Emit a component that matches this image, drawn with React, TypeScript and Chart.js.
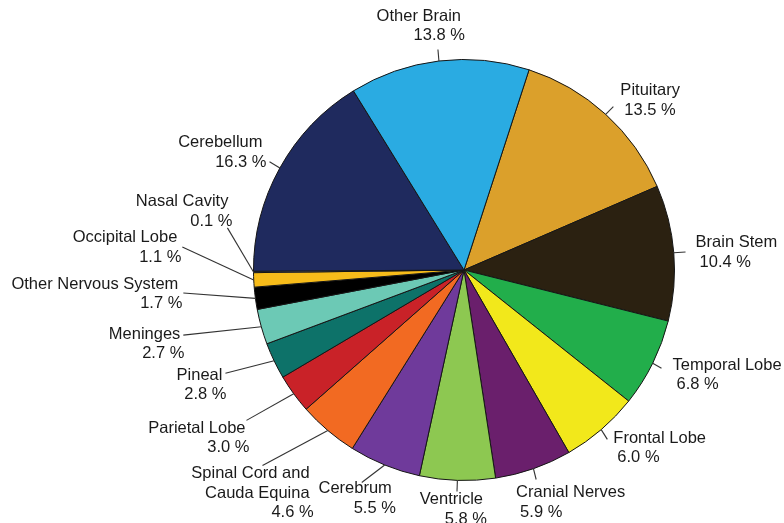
import React, { useEffect, useRef } from "react";
import { Chart, registerables } from "chart.js";

Chart.register(...registerables);

const categories = [
  "Pituitary",
  "Brain Stem",
  "Temporal Lobe",
  "Frontal Lobe",
  "Cranial Nerves",
  "Ventricle",
  "Cerebrum",
  "Spinal Cord and\nCauda Equina",
  "Parietal Lobe",
  "Pineal",
  "Meninges",
  "Other Nervous System",
  "Occipital Lobe",
  "Nasal Cavity",
  "Cerebellum",
  "Other Brain",
];

const percentages = [13.5, 10.4, 6.8, 6.0, 5.9, 5.8, 5.5, 4.6, 3.0, 2.8, 2.7, 1.7, 1.1, 0.1, 16.3, 13.8];

const sliceColors = [
  "#DBA02B",
  "#2B2111",
  "#22AE4B",
  "#F2E81B",
  "#6A1F6C",
  "#8DC851",
  "#6F3A9B",
  "#F26A22",
  "#C92228",
  "#0D7269",
  "#6CC9B5",
  "#000000",
  "#F7BC1A",
  "#E6E6E6",
  "#1F2A5E",
  "#2AABE2",
];

// Label text placement relative to pie centre (in px at radius 210):
// [textDx, textDy, align, leaderEndDx, leaderEndDy]
const labelLayout: [number, number, "left" | "right", number, number][] = [
  [156, -179, "left", 149, -163],
  [231, -27, "left", 221, -18],
  [208, 95, "left", 197, 98],
  [149, 168, "left", 143, 169],
  [52, 222, "left", 72, 209],
  [19, 229, "right", -7, 221],
  [-72, 218, "right", -102, 212],
  [-154, 203, "right", -201, 195],
  [-218, 158, "right", -217, 150],
  [-241, 105, "right", -238, 103],
  [-283, 64, "right", -280, 65],
  [-285, 14, "right", -280, 23],
  [-286, -32, "right", -281, -23],
  [-235, -68, "right", -236, -42],
  [-201, -127, "right", -194, -108],
  [-3, -253, "right", -26, -220],
];

const labelPlugin = {
  id: "pieLabels",
  afterDatasetsDraw(chart: any) {
    const meta = chart.getDatasetMeta(0);
    const ctx = chart.ctx;
    ctx.save();
    ctx.font = '16.5px "Liberation Sans", Arial, sans-serif';
    ctx.fillStyle = "#1a1a1a";
    ctx.strokeStyle = "#333333";
    ctx.lineWidth = 1.1;
    ctx.textBaseline = "middle";
    meta.data.forEach((arc: any, i: number) => {
      const { x, y, startAngle, endAngle, outerRadius } = arc.getProps(
        ["x", "y", "startAngle", "endAngle", "outerRadius"],
        true
      );
      const s = outerRadius / 210;
      const mid = (startAngle + endAngle) / 2;
      const sx = x + Math.cos(mid) * outerRadius;
      const sy = y + Math.sin(mid) * outerRadius;
      const [tdx, tdy, align, edx, edy] = labelLayout[i];
      ctx.beginPath();
      ctx.moveTo(sx, sy);
      ctx.lineTo(x + edx * s, y + edy * s);
      ctx.stroke();
      const lines = categories[i].split("\n");
      lines.push(percentages[i].toFixed(1) + " %");
      ctx.textAlign = align;
      const tx = x + tdx * s;
      const ty = y + tdy * s;
      lines.forEach((ln, k) => {
        const isPct = k === lines.length - 1;
        ctx.fillText(ln, tx + (isPct ? 4 : 0), ty + k * 19.5);
      });
    });
    ctx.restore();
  },
};

export default function App() {
  const canvasRef = useRef<HTMLCanvasElement | null>(null);
  useEffect(() => {
    if (!canvasRef.current) return;
    const chart = new Chart(canvasRef.current, {
      type: "pie",
      data: {
        labels: categories,
        datasets: [
          {
            data: percentages,
            backgroundColor: sliceColors,
            borderColor: "#151515",
            borderWidth: 1,
          },
        ],
      },
      options: {
        responsive: false,
        animation: false,
        rotation: 18,
        layout: { padding: { left: 253, top: 59, right: 109, bottom: 42 } },
        plugins: {
          legend: { display: false },
          tooltip: { enabled: false },
        },
      },
      plugins: [labelPlugin],
    });
    return () => chart.destroy();
  }, []);
  return (
    <div style={{ position: "absolute", left: 0, top: 0, width: 784, height: 523, background: "#ffffff" }}>
      <canvas ref={canvasRef} width={784} height={523} />
    </div>
  );
}
